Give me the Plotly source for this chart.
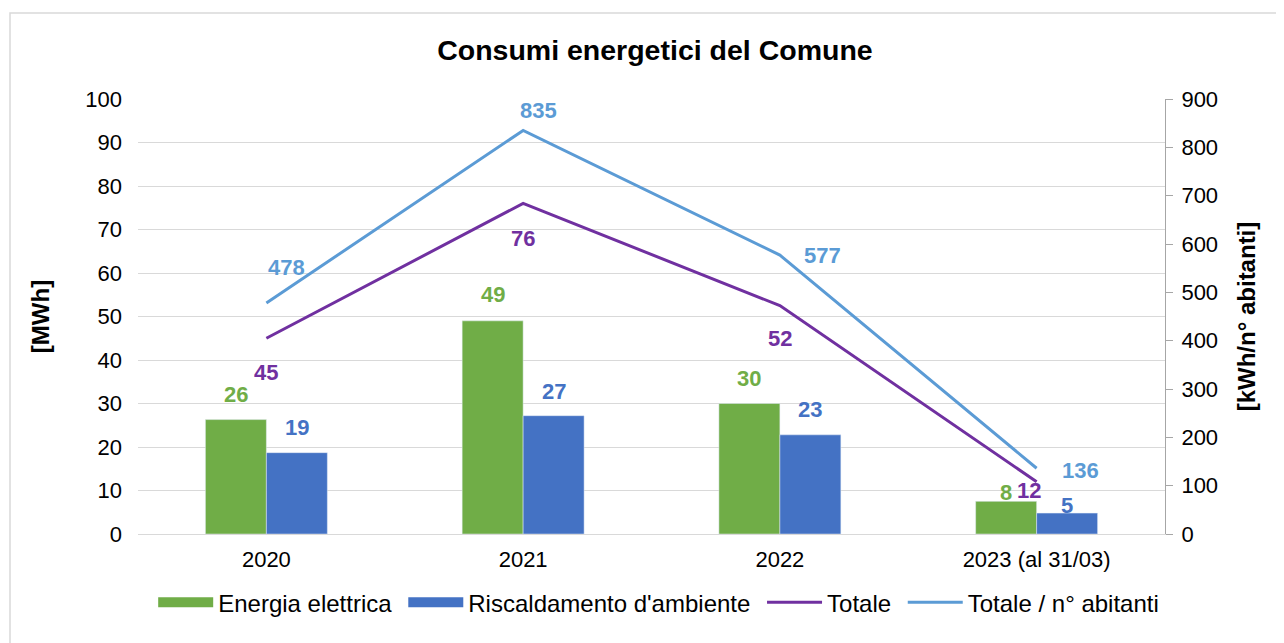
import plotly.graph_objects as go

categories = ["2020", "2021", "2022", "2023 (al 31/03)"]
energia = [26.3, 49.0, 30.0, 7.5]
riscaldamento = [18.7, 27.2, 22.8, 4.8]
totale = [45.0, 76.0, 52.5, 12.0]
per_abitante = [478, 835, 577, 136]

energia_lbl = ["26", "49", "30", "8"]
risc_lbl = ["19", "27", "23", "5"]
tot_lbl = ["45", "76", "52", "12"]
abit_lbl = ["478", "835", "577", "136"]
series_names = ["Energia elettrica", "Riscaldamento d'ambiente", "Totale", "Totale / n° abitanti"]

GREEN = "#70AD47"
BLUE = "#4472C4"
PURPLE = "#7030A0"
LBLUE = "#5B9BD5"
FONT = "Liberation Sans, Arial, sans-serif"
LBL = 22
PAD = "\u00a0"

fig = go.Figure()
fig.add_trace(go.Bar(x=categories, y=energia, name=series_names[0], marker_color=GREEN,
                     showlegend=False))
fig.add_trace(go.Bar(x=categories, y=riscaldamento, name=series_names[1], marker_color=BLUE,
                     showlegend=False))
fig.add_trace(go.Scatter(x=categories, y=totale, name=series_names[2], mode="lines",
                         line=dict(color=PURPLE, width=3), showlegend=False))
fig.add_trace(go.Scatter(x=categories, y=per_abitante, name=series_names[3], mode="lines",
                         line=dict(color=LBLUE, width=3), yaxis="y2", showlegend=False))
# legend entries (wide Excel-like keys)
for k, (name, col, w) in enumerate(zip(series_names, [GREEN, BLUE, PURPLE, LBLUE], [13, 13, 3, 3])):
    label = name + (PAD if k < len(series_names) - 1 else "")
    fig.add_trace(go.Scatter(x=[None], y=[None], name=label, mode="lines",
                             line=dict(color=col, width=w), showlegend=True))

annots = []
en_shift = [25, 26, 25, 9]
ri_shift = [25, 24, 25, 8]
for i, (v, t, dy) in enumerate(zip(energia, energia_lbl, en_shift)):
    annots.append(dict(x=i, xref="x", y=v, yref="y", text=t, showarrow=False, xshift=-30.5, yshift=dy,
                       font=dict(color=GREEN, size=LBL, family=FONT, weight="bold")))
for i, (v, t, dy) in enumerate(zip(riscaldamento, risc_lbl, ri_shift)):
    annots.append(dict(x=i, xref="x", y=v, yref="y", text=t, showarrow=False, xshift=30.5, yshift=dy,
                       font=dict(color=BLUE, size=LBL, family=FONT, weight="bold")))
tot_shift = [(0, -34), (0, -35), (0, -33), (-8, -9)]
for i, (v, t, (dx, dy)) in enumerate(zip(totale, tot_lbl, tot_shift)):
    annots.append(dict(x=i, xref="x", y=v, yref="y", text=t, showarrow=False, xshift=dx, yshift=dy,
                       font=dict(color=PURPLE, size=LBL, family=FONT, weight="bold")))
ab_shift = [(20, 35), (15, 20), (43, 0), (44, -2)]
for i, (v, t, (dx, dy)) in enumerate(zip(per_abitante, abit_lbl, ab_shift)):
    annots.append(dict(x=i, xref="x", y=v, yref="y2", text=t, showarrow=False, xshift=dx, yshift=dy,
                       font=dict(color=LBLUE, size=LBL, family=FONT, weight="bold")))

fig.update_layout(
    width=1276, height=635,
    paper_bgcolor="white", plot_bgcolor="white",
    margin=dict(l=130, r=119, t=91, b=109),
    font=dict(family=FONT, size=22, color="#000000"),
    title=dict(text="<b>Consumi energetici del Comune</b>", x=0.507, xanchor="center",
               y=1 - 42 / 635, yanchor="middle", font=dict(size=28.5, family=FONT, color="#000")),
    barmode="group", bargap=0.525, bargroupgap=0,
    xaxis=dict(type="category", range=[-0.5, len(categories) - 0.5], autorange=False,
               showline=True, linecolor="#D9D9D9", linewidth=1,
               ticks="", tickfont=dict(size=22), ticklabelstandoff=6),
    yaxis=dict(range=[0, 100], dtick=10, showgrid=True, gridcolor="#D9D9D9", gridwidth=1,
               zeroline=False, showline=False, ticks="", ticklabelstandoff=15,
               title=dict(text="<b>[MWh]</b>", font=dict(size=24), standoff=28),
               tickfont=dict(size=22)),
    yaxis2=dict(range=[0, 900], dtick=100, overlaying="y", side="right", showgrid=False,
                zeroline=False, showline=True, linecolor="#A6A6A6", linewidth=1,
                ticks="outside", ticklen=7, tickcolor="#A6A6A6", ticklabelstandoff=4,
                title=dict(text="<b>[kWh/n° abitanti]</b>", font=dict(size=24), standoff=21),
                tickfont=dict(size=22)),
    legend=dict(orientation="h", x=0.507, xanchor="center", y=-0.106, yanchor="top",
                font=dict(size=24), itemwidth=55, traceorder="normal"),
    annotations=annots,
    shapes=[dict(type="rect", xref="paper", yref="paper",
                 x0=-128 / 1027, x1=1.14,
                 y0=-0.3, y1=(526 - 5) / 435,
                 line=dict(color="#D9D9D9", width=1.5), fillcolor="rgba(0,0,0,0)", layer="below")],
)

fig.write_html("out.html")
